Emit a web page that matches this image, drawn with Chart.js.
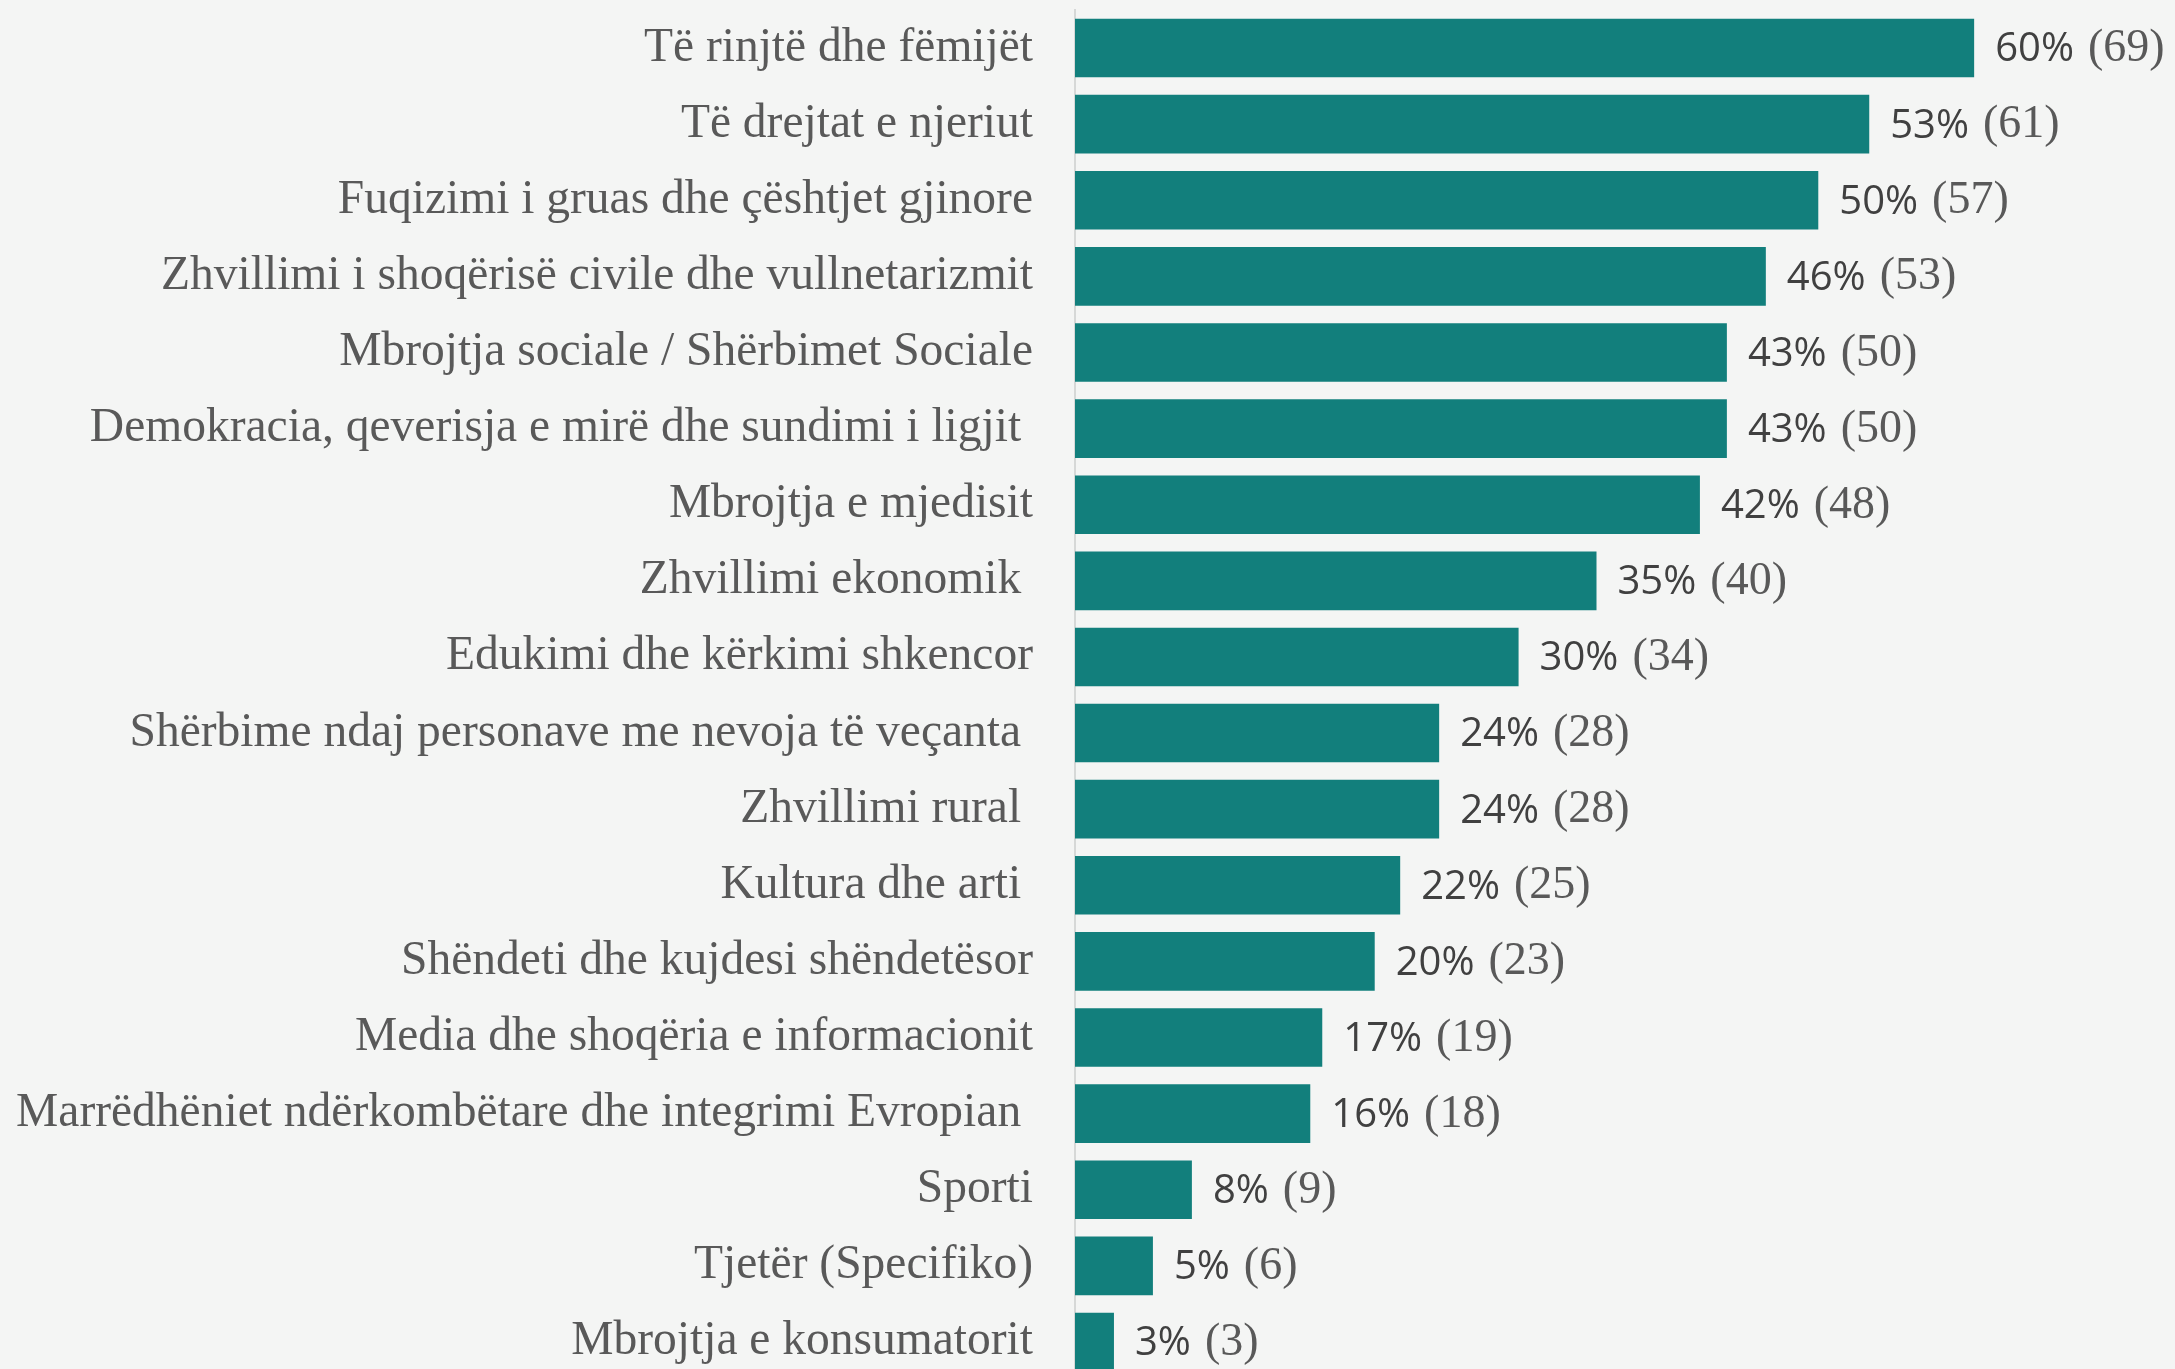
<!DOCTYPE html>
<html>
<head>
<meta charset="utf-8">
<script src="https://cdn.jsdelivr.net/npm/chart.js@4"></script>
<style>
  html, body { margin: 0; padding: 0; overflow: hidden; background: #f4f5f4; }
  canvas { display: block; }
</style>
</head>
<body>
<canvas id="bars" width="2175" height="1385"></canvas>
<script>
const categories = [
  "Të rinjtë dhe fëmijët",
  "Të drejtat e njeriut",
  "Fuqizimi i gruas dhe çështjet gjinore",
  "Zhvillimi i shoqërisë civile dhe vullnetarizmit",
  "Mbrojtja sociale / Shërbimet Sociale",
  "Demokracia, qeverisja e mirë dhe sundimi i ligjit ",
  "Mbrojtja e mjedisit",
  "Zhvillimi ekonomik ",
  "Edukimi dhe kërkimi shkencor",
  "Shërbime ndaj personave me nevoja të veçanta ",
  "Zhvillimi rural ",
  "Kultura dhe arti ",
  "Shëndeti dhe kujdesi shëndetësor",
  "Media dhe shoqëria e informacionit",
  "Marrëdhëniet ndërkombëtare dhe integrimi Evropian ",
  "Sporti",
  "Tjetër (Specifiko)",
  "Mbrojtja e konsumatorit"
];
const shares = [60, 53, 49.6, 46.1, 43.5, 43.5, 41.7, 34.8, 29.6, 24.3, 24.3, 21.7, 20.0, 16.5, 15.7, 7.8, 5.2, 2.6];
const percentLabels = ["60%", "53%", "50%", "46%", "43%", "43%", "42%", "35%", "30%", "24%", "24%", "22%", "20%", "17%", "16%", "8%", "5%", "3%"];
const counts = [69, 61, 57, 53, 50, 50, 48, 40, 34, 28, 28, 25, 23, 19, 18, 9, 6, 3];

// etiketat "60% (69)" pas çdo shiriti
const valueLabels = {
  id: "valueLabels",
  afterDatasetsDraw(chart) {
    const c = chart.ctx;
    const meta = chart.getDatasetMeta(0);
    c.save();
    c.textBaseline = "middle";
    c.textAlign = "left";
    meta.data.forEach((bar, i) => {
      let x = bar.x + 21;
      c.font = "40px 'Open Sans'";
      c.fillStyle = "#404040";
      c.fillText(percentLabels[i], x, bar.y + 2);
      x += c.measureText(percentLabels[i]).width + 14;
      c.font = "46px 'Liberation Serif'";
      c.fillStyle = "#595959";
      c.fillText("(" + counts[i] + ")", x, bar.y + 1);
    });
    c.restore();
  }
};

new Chart(document.getElementById("bars"), {
  type: "bar",
  data: {
    labels: categories,
    datasets: [{
      data: shares,
      backgroundColor: "#127f7c",
      borderWidth: 0,
      barPercentage: 0.77,
      categoryPercentage: 1
    }]
  },
  options: {
    indexAxis: "y",
    responsive: false,
    animation: false,
    layout: { padding: { top: 10, bottom: 5, left: 0, right: 51 } },
    scales: {
      x: { display: false, min: 0, max: 70 },
      y: {
        afterFit(scale) {
          scale.width = 1075;
          scale.paddingTop = 0;
          scale.paddingBottom = 0;
        },
        grid: { display: false, drawTicks: false },
        border: { display: true, color: "#d6d8d7", width: 2 },
        ticks: {
          padding: 42,
          color: "#595959",
          font: { family: "'Liberation Serif'", size: 47.5 }
        }
      }
    },
    plugins: {
      legend: { display: false },
      tooltip: { enabled: false }
    }
  },
  plugins: [valueLabels]
});
</script>
</body>
</html>
